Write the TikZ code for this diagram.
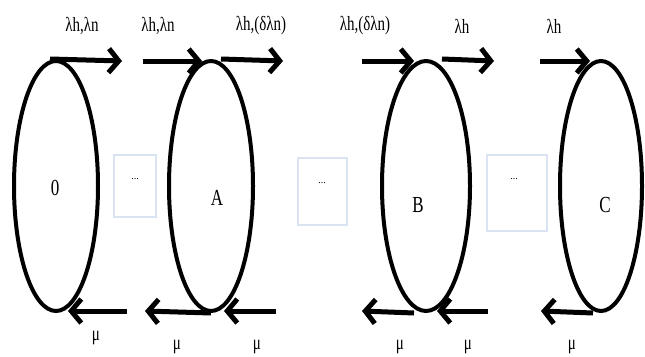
\documentclass[tikz,border=0pt]{standalone}
\usepackage{graphicx}
\usepackage{fontspec}
\setmainfont{Liberation Serif}
\usetikzlibrary{shapes.geometric,arrows.meta}
\newcommand\tallt[1]{\scalebox{1}[1.35]{#1}}
\begin{document}
\begin{tikzpicture}[x=1pt,y=-1pt,
  stateell/.style={draw=black,ellipse,line width=4pt,inner sep=0pt,minimum width=84pt,minimum height=250pt},
  dotbox/.style={draw={rgb,255:red,218;green,227;blue,242},line width=2.5pt,inner sep=0pt,font=\fontsize{10}{12}\selectfont},
  flow/.style={line width=5pt,-{Straight Barb[length=10pt,width=24pt]}},
  lab/.style={font=\fontsize{15}{18}\selectfont,inner sep=0pt},
  slab/.style={font=\fontsize{17}{20}\selectfont,inner sep=0pt}]
\useasboundingbox (0,0) rectangle (645,356);
% states
\node[stateell] (e0) at (56,186) {};
\node[stateell] (eA) at (211,186) {};
\node[stateell,minimum width=88pt] (eB) at (426,186) {};
\node[stateell,minimum width=82pt] (eC) at (601,186) {};
\node[slab] (l0) at (55,188) {\tallt{0}};
\node[slab] (lA) at (217,198) {\tallt{A}};
\node[slab] (lB) at (418,205) {\tallt{B}};
\node[slab] (lC) at (605,205) {\tallt{C}};
% dotted boxes
\node[dotbox,minimum width=42pt,minimum height=62pt] (d1) at (135,186) {};
\node[dotbox,minimum width=49pt,minimum height=67pt] (d2) at (322.5,191.5) {};
\node[dotbox,minimum width=60pt,minimum height=76pt] (d3) at (517,193) {};
\node[inner sep=0pt,font=\fontsize{10}{12}\selectfont] (t1) at (135,179) {...};
\node[inner sep=0pt,font=\fontsize{10}{12}\selectfont] (t2) at (322,183) {...};
\node[inner sep=0pt,font=\fontsize{10}{12}\selectfont] (t3) at (514,179) {...};
% coordinates for free ends
\coordinate (a1e) at (122,61);
\coordinate (a2s) at (143,61);
\coordinate (a2e) at (202,61);
\coordinate (a3e) at (283,61);
\coordinate (a4s) at (362,61);
\coordinate (a4e) at (414,61);
\coordinate (a5e) at (494,61);
\coordinate (a6s) at (540,61);
\coordinate (a6e) at (590,61);
\coordinate (b1s) at (127,311);
\coordinate (b1e) at (68,311);
\coordinate (b2e) at (145,311);
\coordinate (b3s) at (276,311);
\coordinate (b3e) at (224,311);
\coordinate (b4e) at (362,311);
\coordinate (b5s) at (488,311);
\coordinate (b5e) at (437,311);
\coordinate (b6e) at (541,311);
% top arrows
\draw[flow] (e0.north) ++(-6,0) -- (a1e);
\draw[flow] (a2s) -- (a2e);
\draw[flow] (eA.north) ++(10,0) -- (a3e);
\draw[flow] (a4s) -- (a4e);
\draw[flow] (eB.north) ++(16,0) -- (a5e);
\draw[flow] (a6s) -- (a6e);
% bottom arrows
\draw[flow] (b1s) -- (b1e);
\draw[flow] (eA.south) -- (b2e);
\draw[flow] (b3s) -- (b3e);
\draw[flow] (eB.south) ++(-12,0) -- (b4e);
\draw[flow] (b5s) -- (b5e);
\draw[flow] (eC.south) ++(-8,0) -- (b6e);
% labels
\node[lab] (u1) at (82,26) {\tallt{λh,λn}};
\node[lab] (u2) at (158,26) {\tallt{λh,λn}};
\node[lab] (u3) at (261,26) {\tallt{λh,(δλn)}};
\node[lab] (u4) at (365,26) {\tallt{λh,(δλn)}};
\node[lab] (u5) at (462,26) {\tallt{λh}};
\node[lab] (u6) at (554,26) {\tallt{λh}};
\node[lab] (m1) at (96,338) {\tallt{μ}};
\node[lab] (m2) at (177,347) {\tallt{μ}};
\node[lab] (m3) at (257,347) {\tallt{μ}};
\node[lab] (m4) at (400,347) {\tallt{μ}};
\node[lab] (m5) at (468,347) {\tallt{μ}};
\node[lab] (m6) at (572,347) {\tallt{μ}};
\end{tikzpicture}
\end{document}
